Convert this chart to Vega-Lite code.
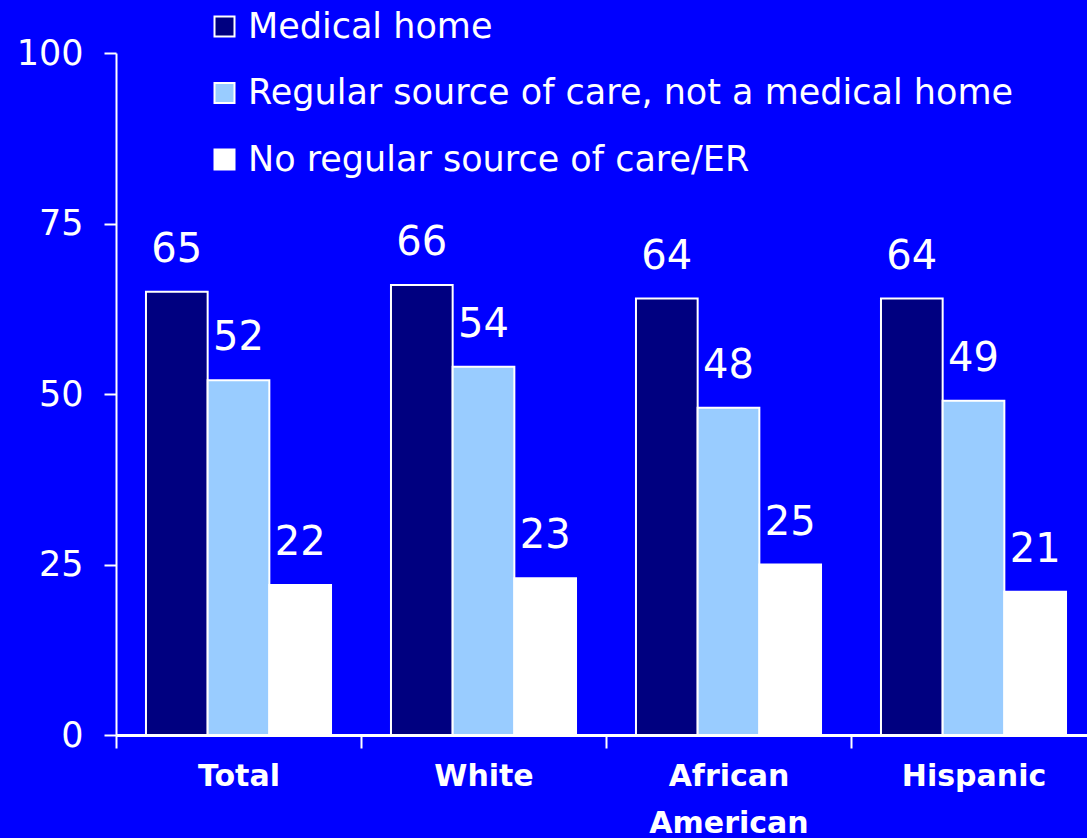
{
  "$schema": "https://vega.github.io/schema/vega-lite/v6.json",
  "width": 971,
  "height": 682,
  "autosize": {"type": "none"},
  "padding": {"left": 116, "top": 53, "right": 0, "bottom": 103},
  "background": "#0000FF",
  "config": {
    "view": {"stroke": null},
    "font": "DejaVu Sans"
  },
  "data": {
    "values": [
      {"group": "Total", "category": "Medical home", "value": 65},
      {"group": "Total", "category": "Regular source of care, not a medical home", "value": 52},
      {"group": "Total", "category": "No regular source of care/ER", "value": 22},
      {"group": "White", "category": "Medical home", "value": 66},
      {"group": "White", "category": "Regular source of care, not a medical home", "value": 54},
      {"group": "White", "category": "No regular source of care/ER", "value": 23},
      {"group": "African American", "category": "Medical home", "value": 64},
      {"group": "African American", "category": "Regular source of care, not a medical home", "value": 48},
      {"group": "African American", "category": "No regular source of care/ER", "value": 25},
      {"group": "Hispanic", "category": "Medical home", "value": 64},
      {"group": "Hispanic", "category": "Regular source of care, not a medical home", "value": 49},
      {"group": "Hispanic", "category": "No regular source of care/ER", "value": 21}
    ]
  },
  "encoding": {
    "x": {
      "field": "group", "type": "nominal", "sort": null,
      "scale": {"range": [0, 980], "paddingInner": 0, "paddingOuter": 0},
      "axis": {
        "title": null, "labelAngle": 0, "tickBand": "extent",
        "domainColor": "white", "domainWidth": 3, "tickColor": "white", "tickWidth": 2, "tickSize": 13,
        "labelColor": "white", "labelFont": "DejaVu Sans", "labelFontWeight": "bold", "labelFontSize": 30,
        "labelPadding": 13, "labelBaseline": "top", "labelLineHeight": 47,
        "labelExpr": "datum.value == 'African American' ? ['African', 'American'] : datum.value"
      }
    },
    "xOffset": {
      "field": "category", "type": "nominal",
      "sort": ["Medical home", "Regular source of care, not a medical home", "No regular source of care/ER"],
      "scale": {"paddingInner": 0, "paddingOuter": 0.486}
    },
    "y": {
      "field": "value", "type": "quantitative",
      "scale": {"domain": [0, 100]},
      "axis": {
        "title": null, "values": [0, 25, 50, 75, 100], "grid": false,
        "domainColor": "white", "domainWidth": 2, "tickColor": "white", "tickWidth": 2, "tickSize": 12,
        "labelColor": "white", "labelFontSize": 35, "labelPadding": 21
      }
    }
  },
  "layer": [
    {
      "mark": {"type": "bar", "stroke": "white", "strokeWidth": 2},
      "encoding": {
        "color": {
          "field": "category", "type": "nominal",
          "sort": ["Medical home", "Regular source of care, not a medical home", "No regular source of care/ER"],
          "scale": {
            "domain": ["Medical home", "Regular source of care, not a medical home", "No regular source of care/ER"],
            "range": ["#000080", "#99CCFF", "#FFFFFF"]
          },
          "legend": {
            "title": null, "orient": "none", "legendX": 91, "legendY": -44,
            "symbolType": "square", "symbolSize": 400, "symbolStrokeColor": "white", "symbolStrokeWidth": 2,
            "labelColor": "white", "labelFontSize": 35, "labelOffset": 6, "rowPadding": 30.5, "labelLimit": 900
          }
        }
      }
    },
    {
      "mark": {"type": "text", "color": "white", "fontSize": 40, "baseline": "alphabetic", "dy": -30},
      "encoding": {"text": {"field": "value", "type": "quantitative"}}
    }
  ]
}
